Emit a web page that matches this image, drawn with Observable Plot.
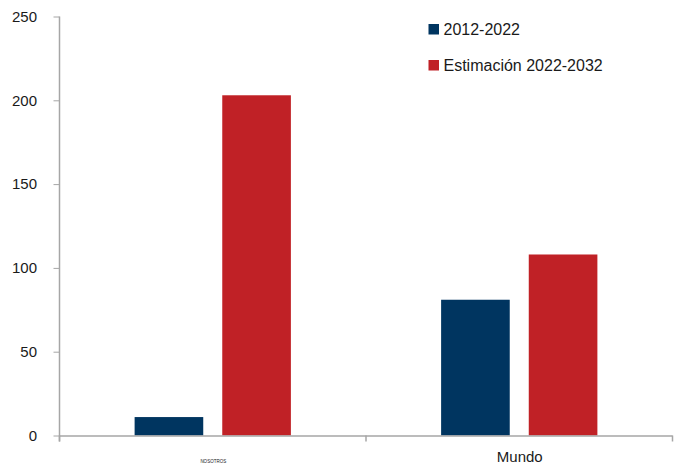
<!DOCTYPE html>
<html>
<head>
<meta charset="utf-8">
<script src="https://cdn.jsdelivr.net/npm/d3@7"></script>
<script src="https://cdn.jsdelivr.net/npm/@observablehq/plot@0.6"></script>
<style>
  html, body { margin: 0; padding: 0; background: #fff; }
  #chart { width: 680px; height: 463px; overflow: hidden; }
  svg { display: block; }
</style>
</head>
<body>
<div id="chart"></div>
<script>
const regions = ["NOSOTROS", "Mundo"];
const periods = ["2012-2022", "Estimación 2022-2032"];
const firstPeriodValues = [11, 81];
const secondPeriodValues = [203, 108];
const yTicks = [0, 50, 100, 150, 200, 250];
const periodColors = ["#003560", "#c02126"];
const axisColor = "#a6a6a6";
const textColor = "#1a1a1a";
const fontFamily = "Liberation Sans, Arial, sans-serif";

const rows = regions.flatMap((region, i) => [
  {region, period: periods[0], value: firstPeriodValues[i]},
  {region, period: periods[1], value: secondPeriodValues[i]}
]);

const plot = Plot.plot({
  width: 680,
  height: 463,
  marginLeft: 59.5,
  marginRight: 7.5,
  marginTop: 16.5,
  marginBottom: 27.5,
  style: {fontFamily, background: "#fff", overflow: "visible"},
  fx: {domain: regions, padding: 0, round: false, axis: null},
  x: {domain: periods, paddingInner: 0.217, paddingOuter: 0.857, round: false, axis: null},
  y: {domain: [0, 250], axis: null},
  color: {domain: periods, range: periodColors},
  marks: [
    Plot.barY(rows, {fx: "region", x: "period", y: "value", fill: "period"}),
    Plot.ruleY([0], {stroke: axisColor, strokeWidth: 1.5}),
    Plot.axisY({
      ticks: yTicks,
      tickSize: 6,
      tickPadding: 17,
      stroke: axisColor,
      fill: textColor,
      fontSize: 15,
      label: null
    }),
    // Region names under the baseline; the first one is printed very small
    Plot.text([regions[0]], {
      fx: d => d,
      frameAnchor: "bottom",
      dy: 26,
      lineAnchor: "middle",
      text: d => d,
      fill: textColor,
      fontSize: 4.5
    }),
    Plot.text([regions[1]], {
      fx: d => d,
      frameAnchor: "bottom",
      dy: 21.5,
      lineAnchor: "middle",
      text: d => d,
      fill: textColor,
      fontSize: 15
    })
  ]
});

// Axis lines and the boundary ticks between regions, placed through the scales
const svg = d3.select(plot);
const fx = plot.scale("fx");
const y = plot.scale("y");
const left = fx.apply(regions[0]);
const y0 = y.apply(0);
const boundaries = [left, fx.apply(regions[1]), fx.apply(regions[1]) + fx.bandwidth];
const axes = svg.append("g").attr("stroke", axisColor).attr("stroke-width", 1.5);
axes.append("line").attr("x1", left).attr("x2", left).attr("y1", y.apply(250)).attr("y2", y0 + 6);
axes.selectAll(".boundary").data(boundaries).join("line")
  .attr("class", "boundary")
  .attr("x1", d => d).attr("x2", d => d)
  .attr("y1", y0).attr("y2", y0 + 6);

// Legend inside the plot area
const legend = svg.append("g").attr("font-size", 16).attr("fill", textColor).attr("text-anchor", "start");
const legendX = fx.apply(regions[1]) + 62.5;
const legendTop = y.apply(250) + 7.5;
periods.forEach((period, i) => {
  const rowY = legendTop + i * 36;
  legend.append("rect").attr("x", legendX).attr("y", rowY).attr("width", 10.5).attr("height", 10.5)
    .attr("fill", periodColors[i]);
  legend.append("text").attr("x", legendX + 15).attr("y", rowY + 10.5).text(period);
});

document.getElementById("chart").append(plot);
</script>
</body>
</html>
